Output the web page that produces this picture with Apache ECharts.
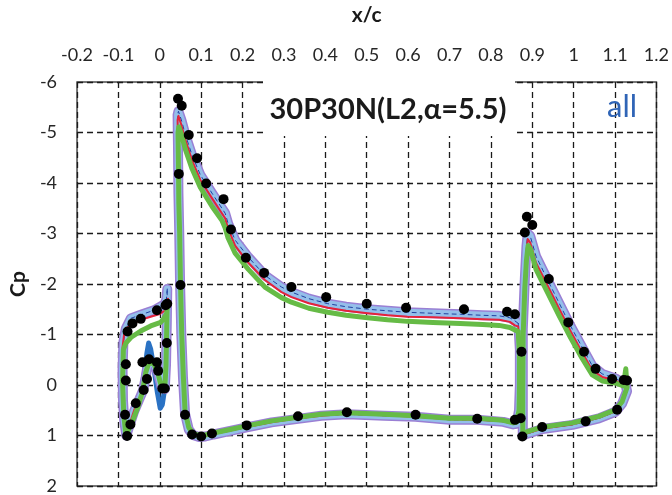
<!DOCTYPE html>
<html>
<head>
<meta charset="utf-8">
<script src="https://cdn.jsdelivr.net/npm/echarts@6/dist/echarts.min.js"></script>
<style>
  html, body { margin: 0; padding: 0; background: #fff; }
  #chart { width: 672px; height: 495px; }
</style>
</head>
<body>
<div id="chart"></div>
<script>
  // x/c and Cp pairs, one closed loop per element
  const blueSlat = [
    [0.018, -1.85], [0.016, -1.70], [0.012, -1.60], [-0.014, -1.48], [-0.046, -1.39], [-0.070, -1.32],
    [-0.082, -1.12], [-0.088, -0.85], [-0.090, -0.30], [-0.089, 0.30], [-0.086, 0.70], [-0.081, 1.00],
    [-0.070, 0.72], [-0.058, 0.45], [-0.046, 0.20], [-0.038, -0.19], [-0.031, -0.64], [-0.027, -0.83],
    [-0.022, -0.71], [-0.014, -0.32], [-0.006, 0.14], [0.001, 0.46], [0.006, 0.39], [0.012, 0.07],
    [0.015, -0.40], [0.017, -1.30], [0.018, -1.85]
  ]

  const lightSlat = [
    [0.018, -1.90], [0.016, -1.70], [0.012, -1.60], [-0.014, -1.48], [-0.046, -1.39], [-0.070, -1.32],
    [-0.082, -1.12], [-0.088, -0.85], [-0.090, -0.30], [-0.089, 0.30], [-0.086, 0.70], [-0.081, 1.00],
    [-0.074, 0.82], [-0.062, 0.52], [-0.050, 0.29], [-0.040, 0.10], [-0.034, -0.16], [-0.030, -0.36],
    [-0.024, -0.46], [-0.014, -0.42], [-0.004, -0.22], [0.004, 0.04], [0.012, 0.08], [0.015, -0.40],
    [0.017, -1.30], [0.018, -1.90]
  ]
  const lightMain = [
    [0.866, -1.22], [0.858, -1.27], [0.846, -1.33], [0.82, -1.37], [0.78, -1.38], [0.726, -1.40],
    [0.66, -1.42], [0.598, -1.44], [0.55, -1.47], [0.502, -1.50], [0.45, -1.55], [0.406, -1.61],
    [0.36, -1.71], [0.318, -1.84], [0.294, -1.94], [0.254, -2.17], [0.214, -2.53], [0.182, -2.87],
    [0.165, -3.2], [0.158, -3.4], [0.15, -3.5], [0.126, -3.8], [0.098, -4.16], [0.078, -4.55],
    [0.062, -4.95], [0.052, -5.25], [0.045, -5.42], [0.043, -5.35], [0.044, -4.7], [0.045, -3.8],
    [0.047, -3.0], [0.049, -2.0], [0.052, -1.0], [0.056, -0.15], [0.061, 0.57], [0.07, 0.88],
    [0.08, 0.99], [0.095, 1.03], [0.11, 1.02], [0.13, 0.98], [0.17, 0.91], [0.21, 0.84],
    [0.27, 0.74], [0.334, 0.67], [0.39, 0.61], [0.452, 0.58], [0.542, 0.61], [0.618, 0.63],
    [0.70, 0.69], [0.767, 0.69], [0.83, 0.73], [0.854, 0.78], [0.862, 0.77], [0.868, 0.5],
    [0.87, 0.0], [0.87, -0.7], [0.868, -0.98], [0.866, -1.22]
  ]
  const lightFlap = [
    [0.877, 1.00], [0.877, 0.20], [0.877, -1.10], [0.882, -2.10], [0.886, -2.75], [0.889, -3.00],
    [0.895, -2.95], [0.909, -2.55], [0.937, -2.08], [0.965, -1.62], [0.993, -1.16], [1.021, -0.74],
    [1.045, -0.38], [1.069, -0.22], [1.101, -0.13], [1.125, -0.02], [1.129, 0.12], [1.117, 0.37],
    [1.101, 0.53], [1.061, 0.66], [0.997, 0.79], [0.925, 0.87], [0.886, 0.97], [0.877, 1.00]
  ]

  const redSlat = [
    [0.020, -1.71], [0.016, -1.55], [0.012, -1.47], [-0.002, -1.40], [-0.022, -1.35], [-0.046, -1.29],
    [-0.062, -1.22], [-0.078, -1.14], [-0.086, -1.02], [-0.090, -0.75], [-0.091, -0.30], [-0.090, 0.20],
    [-0.087, 0.60], [-0.083, 0.90], [-0.080, 1.00], [-0.074, 0.80], [-0.062, 0.50], [-0.050, 0.27],
    [-0.040, 0.08], [-0.034, -0.18], [-0.030, -0.38], [-0.024, -0.47], [-0.014, -0.43], [-0.004, -0.24],
    [0.004, 0.02], [0.012, 0.06], [0.015, -0.40], [0.018, -1.20], [0.020, -1.71]
  ]
  const redMain = [
    [0.866, -1.16], [0.858, -1.18], [0.846, -1.25], [0.82, -1.29], [0.78, -1.30], [0.726, -1.32],
    [0.66, -1.34], [0.598, -1.35], [0.55, -1.38], [0.502, -1.42], [0.45, -1.47], [0.406, -1.53],
    [0.36, -1.62], [0.318, -1.74], [0.294, -1.84], [0.254, -2.08], [0.214, -2.42], [0.182, -2.76],
    [0.165, -3.1], [0.158, -3.3], [0.15, -3.4], [0.126, -3.7], [0.098, -4.06], [0.078, -4.45],
    [0.062, -4.85], [0.052, -5.15], [0.045, -5.33], [0.043, -5.25], [0.044, -4.6], [0.045, -3.8],
    [0.047, -3.0], [0.049, -2.0], [0.052, -1.0], [0.056, -0.15], [0.061, 0.55], [0.07, 0.87],
    [0.08, 0.98], [0.095, 1.02], [0.11, 1.01], [0.13, 0.97], [0.17, 0.90], [0.21, 0.83],
    [0.27, 0.74], [0.334, 0.66], [0.39, 0.61], [0.452, 0.57], [0.542, 0.60], [0.618, 0.63],
    [0.70, 0.68], [0.767, 0.69], [0.83, 0.72], [0.854, 0.77], [0.862, 0.76], [0.868, 0.5],
    [0.87, 0.0], [0.87, -0.67], [0.868, -0.93], [0.866, -1.16]
  ]
  const redFlap = [
    [0.877, 1.00], [0.877, 0.23], [0.877, -1.06], [0.882, -2.03], [0.886, -2.62], [0.889, -2.89],
    [0.895, -2.82], [0.909, -2.42], [0.937, -1.97], [0.965, -1.51], [0.993, -1.06], [1.021, -0.64],
    [1.045, -0.29], [1.069, -0.16], [1.101, -0.09], [1.125, 0.03], [1.129, 0.10], [1.117, 0.36],
    [1.101, 0.52], [1.061, 0.65], [0.997, 0.78], [0.925, 0.86], [0.886, 0.96], [0.877, 1.00]
  ]

  const greenSlat = [
    [0.018, -1.61], [0.017, -1.42], [0.010, -1.32], [0.002, -1.24], [-0.022, -1.17], [-0.046, -1.07],
    [-0.070, -0.94], [-0.082, -0.83], [-0.088, -0.70], [-0.090, -0.06], [-0.087, 0.59], [-0.082, 1.00],
    [-0.078, 0.98], [-0.066, 0.72], [-0.054, 0.46], [-0.042, 0.14], [-0.034, -0.25], [-0.026, -0.45],
    [-0.014, -0.41], [-0.004, -0.22], [0.004, 0.04], [0.012, 0.07], [0.015, -0.38], [0.017, -1.22],
    [0.018, -1.61]
  ]
  const greenMain = [
    [0.866, -1.06], [0.858, -1.09], [0.846, -1.14], [0.82, -1.18], [0.78, -1.20], [0.726, -1.22],
    [0.66, -1.24], [0.598, -1.26], [0.55, -1.29], [0.502, -1.33], [0.45, -1.38], [0.406, -1.44],
    [0.36, -1.52], [0.318, -1.64], [0.294, -1.73], [0.254, -1.94], [0.214, -2.29], [0.182, -2.61],
    [0.165, -2.91], [0.158, -3.11], [0.15, -3.26], [0.126, -3.54], [0.098, -3.91], [0.078, -4.28],
    [0.062, -4.66], [0.052, -4.97], [0.046, -5.11], [0.044, -5.0], [0.045, -4.4], [0.046, -3.6],
    [0.048, -3.0], [0.050, -2.0], [0.053, -1.0], [0.057, -0.15], [0.061, 0.52], [0.07, 0.84],
    [0.08, 0.96], [0.095, 1.00], [0.11, 0.99], [0.13, 0.95], [0.17, 0.88], [0.21, 0.81],
    [0.27, 0.71], [0.334, 0.64], [0.39, 0.58], [0.452, 0.55], [0.542, 0.58], [0.618, 0.61],
    [0.70, 0.66], [0.767, 0.66], [0.83, 0.70], [0.854, 0.75], [0.862, 0.74], [0.868, 0.5],
    [0.869, 0.0], [0.869, -0.6], [0.867, -0.9], [0.866, -1.06]
  ]
  const greenFlap = [
    [0.877, 0.98], [0.877, 0.20], [0.878, -1.00], [0.882, -1.93], [0.886, -2.48], [0.890, -2.76],
    [0.896, -2.68], [0.909, -2.29], [0.937, -1.83], [0.965, -1.37], [0.993, -0.93], [1.021, -0.52],
    [1.045, -0.20], [1.069, -0.08], [1.101, -0.04], [1.120, 0.02], [1.126, -0.32], [1.129, 0.05],
    [1.117, 0.33], [1.101, 0.49], [1.061, 0.62], [0.997, 0.75], [0.925, 0.83], [0.886, 0.93],
    [0.877, 0.98]
  ]

  const expData = [
    [-0.079, 1.01], [-0.071, 0.78], [-0.084, 0.59], [-0.058, 0.36], [-0.039, 0.10], [-0.031, -0.12],
    [-0.082, -0.09], [-0.082, -0.41], [-0.042, -0.45], [-0.026, -0.51], [-0.007, -0.45], [-0.004, -0.28],
    [0.006, 0.07], [0.012, 0.07], [0.017, -0.83], [0.014, -1.58], [0.018, -1.61], [-0.007, -1.48],
    [-0.046, -1.31], [-0.066, -1.22], [-0.078, -1.06],
    [0.044, -5.67], [0.053, -5.53], [0.070, -4.95], [0.090, -4.49], [0.112, -3.99], [0.154, -3.68],
    [0.172, -3.08], [0.208, -2.52], [0.252, -2.22], [0.318, -1.94], [0.402, -1.74], [0.50, -1.61],
    [0.595, -1.53], [0.735, -1.50], [0.839, -1.45], [0.858, -1.40], [0.046, -4.18], [0.050, -1.98],
    [0.061, 0.59], [0.078, 0.98], [0.100, 1.02], [0.126, 0.96], [0.21, 0.80], [0.334, 0.62],
    [0.452, 0.54], [0.618, 0.59], [0.767, 0.67], [0.858, 0.69], [0.872, 0.66], [0.874, -0.66],
    [0.887, -3.33], [0.900, -3.17], [0.882, -3.02], [0.940, -2.10], [0.987, -1.24], [1.025, -0.66],
    [1.053, -0.32], [1.093, -0.12], [1.121, -0.10], [1.129, -0.09], [1.105, 0.49], [1.029, 0.72],
    [0.924, 0.83], [0.876, 1.02]
  ]

  const titleText = '30P30N(L2,α=5.5)'
  const caseText = 'all'

  function curve (data, color, width, z, dash) {
    return {
      type: 'line',
      data: data,
      symbol: 'none',
      silent: true,
      z: z,
      lineStyle: { color: color, width: width, type: dash || 'solid', join: 'round', cap: 'round' }
    }
  }

  let series = []
  series.push(curve(blueSlat, '#2a72c4', 5, 2))
  ;[lightSlat, lightMain, lightFlap].forEach(function (d) {
    series.push(curve(d, '#9a7fd4', 10, 3))
    series.push(curve(d, '#94bfea', 7, 4))
    series.push(curve(d, '#2040a0', 1, 5, [4, 4]))
  })
  ;[redSlat, redMain, redFlap].forEach(function (d) {
    series.push(curve(d, '#e4233b', 2, 6))
  })
  ;[greenSlat, greenMain, greenFlap].forEach(function (d) {
    series.push(curve(d, '#66bb46', 5, 7))
  })
  series.push({
    type: 'scatter',
    data: expData,
    symbolSize: 10,
    z: 9,
    itemStyle: { color: '#000', opacity: 1 }
  })

  const labelStyle = { color: '#262626', fontSize: 18, fontFamily: 'Lato' }
  const gridLine = { show: true, lineStyle: { color: '#1a1a1a', width: 1.3, type: [6, 4] } }

  let chart = echarts.init(document.getElementById('chart'))
  chart.setOption({
    animation: false,
    backgroundColor: '#fff',
    grid: {
      left: 74, right: 14, top: 79, bottom: 4,
      show: true, borderColor: '#4a4a4a', borderWidth: 1.5, backgroundColor: 'transparent'
    },
    xAxis: {
      type: 'value',
      position: 'top',
      min: -0.2,
      max: 1.2,
      interval: 0.1,
      name: 'x/c',
      nameLocation: 'middle',
      nameGap: 56,
      nameTextStyle: { color: '#1a1a1a', fontSize: 21, fontWeight: 'bold', fontFamily: 'Lato' },
      axisLine: { show: false },
      axisTick: { show: false },
      axisLabel: Object.assign({ margin: 18 }, labelStyle),
      splitLine: gridLine
    },
    yAxis: {
      type: 'value',
      inverse: true,
      min: -6,
      max: 2,
      interval: 1,
      name: 'Cp',
      nameLocation: 'middle',
      nameGap: 46,
      nameRotate: 90,
      nameTextStyle: { color: '#1a1a1a', fontSize: 21, fontWeight: 'bold', fontFamily: 'Lato' },
      axisLine: { show: false },
      axisTick: { show: false },
      axisLabel: Object.assign({ margin: 20 }, labelStyle),
      splitLine: gridLine
    },
    graphic: [
      {
        type: 'rect',
        shape: { x: 263, y: 81, width: 252, height: 55 },
        style: { fill: '#fff' },
        z: 8
      },
      {
        type: 'text',
        x: 388, y: 110,
        style: {
          text: titleText, fill: '#1a1a1a', fontSize: 29, fontWeight: 'bold', fontFamily: 'Lato',
          align: 'center', verticalAlign: 'middle'
        },
        z: 8
      },
      {
        type: 'text',
        x: 622, y: 107,
        style: {
          text: caseText, fill: '#2f64b6', fontSize: 31, fontFamily: 'Lato',
          align: 'center', verticalAlign: 'middle'
        },
        z: 8
      }
    ],
    series: series
  })
</script>
</body>
</html>
